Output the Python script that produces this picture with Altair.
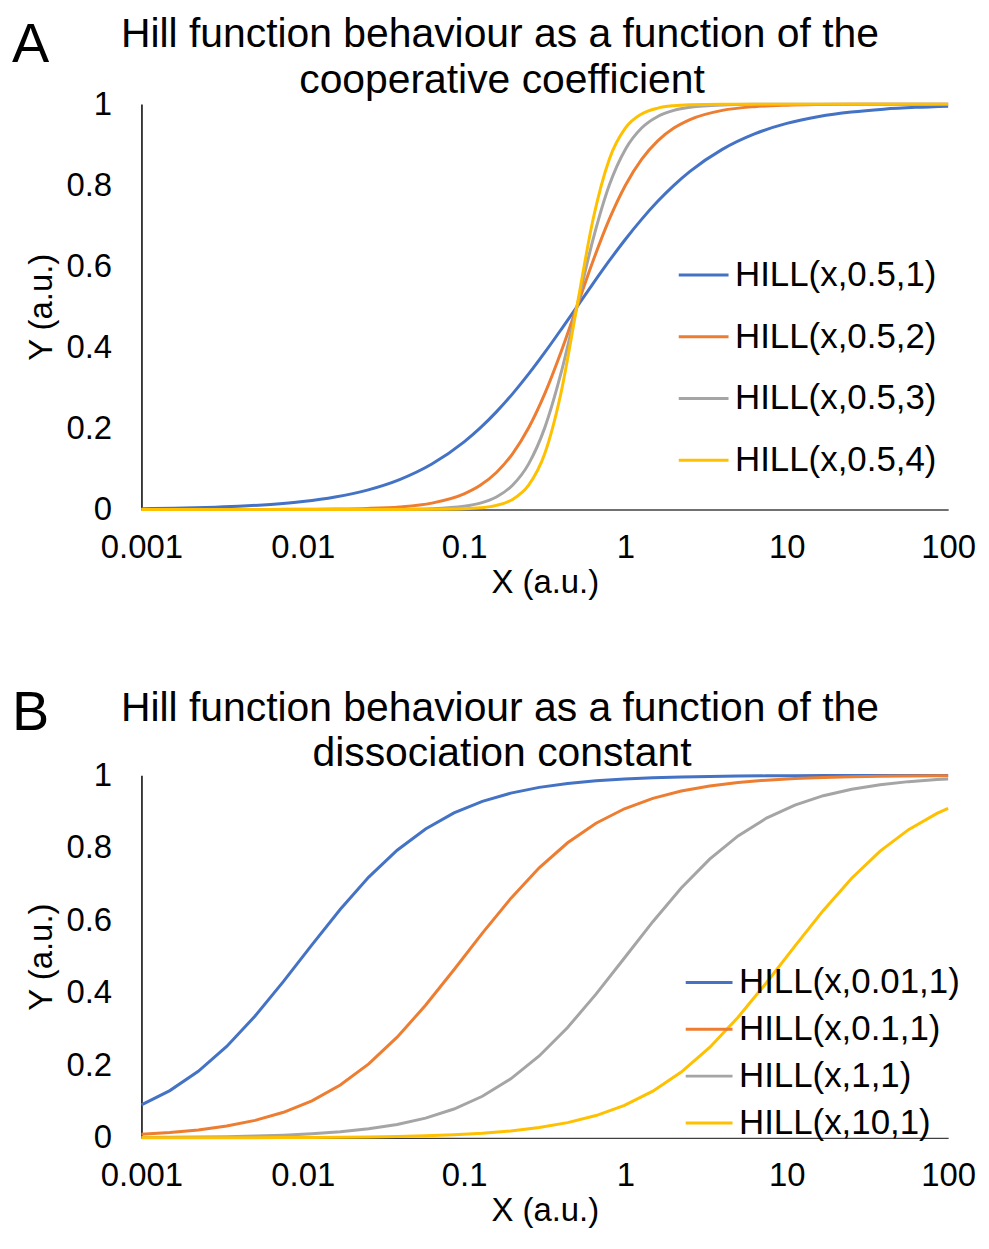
import altair as alt
import pandas as pd

FONT = "Liberation Sans"
COLORS = ["#4472C4", "#ED7D31", "#A5A5A5", "#FFC000"]
X_TICKS = [0.001, 0.01, 0.1, 1, 10, 100]
Y_TICKS = [0, 0.2, 0.4, 0.6, 0.8, 1]

# ---------- Panel A: varying cooperative coefficient (K = 0.5) ----------
names_a = ["HILL(x,0.5,1)", "HILL(x,0.5,2)", "HILL(x,0.5,3)", "HILL(x,0.5,4)"]
xa = [0.001, 0.001585, 0.002512, 0.003981, 0.00631, 0.01, 0.01585, 0.02512,
      0.03981, 0.0631, 0.1, 0.1259, 0.1585, 0.1995, 0.2512, 0.3162, 0.3981,
      0.5012, 0.631, 0.7943, 1, 1.259, 1.585, 1.995, 2.512, 3.981, 6.31, 10,
      15.85, 25.12, 39.81, 63.1, 100]
ya1 = [0.002, 0.0032, 0.005, 0.0079, 0.0125, 0.0196, 0.0307, 0.0478, 0.0737,
       0.1121, 0.1667, 0.2011, 0.2407, 0.2852, 0.3344, 0.3874, 0.4433, 0.5006,
       0.5579, 0.6137, 0.6667, 0.7157, 0.7602, 0.7996, 0.8340, 0.8884, 0.9266,
       0.9524, 0.9694, 0.9805, 0.9876, 0.9921, 0.9950]
ya2 = [0.0, 0.0, 0.0, 0.0001, 0.0002, 0.0004, 0.0010, 0.0025, 0.0063, 0.0157,
       0.0385, 0.0596, 0.0913, 0.1373, 0.2015, 0.2857, 0.3880, 0.5012, 0.6143,
       0.7162, 0.8000, 0.8637, 0.9095, 0.9409, 0.9619, 0.9845, 0.9938, 0.9975,
       0.9990, 0.9996, 0.9998, 0.9999, 1.0]
ya3 = [0.0, 0.0, 0.0, 0.0, 0.0, 0.0, 0.0, 0.0001, 0.0005, 0.0020, 0.0079,
       0.0157, 0.0309, 0.0597, 0.1125, 0.2019, 0.3355, 0.5018, 0.6678, 0.8004,
       0.8889, 0.9410, 0.9696, 0.9845, 0.9922, 0.9980, 0.9995, 0.9999, 1.0,
       1.0, 1.0, 1.0, 1.0]
ya4 = [0.0, 0.0, 0.0, 0.0, 0.0, 0.0, 0.0, 0.0, 0.0, 0.0003, 0.0016, 0.0040,
       0.0100, 0.0247, 0.0599, 0.1379, 0.2867, 0.5024, 0.7173, 0.8643, 0.9412,
       0.9757, 0.9902, 0.9961, 0.9984, 0.9998, 1.0, 1.0, 1.0, 1.0, 1.0, 1.0, 1.0]

# ---------- Panel B: varying dissociation constant (n = 1) ----------
names_b = ["HILL(x,0.01,1)", "HILL(x,0.1,1)", "HILL(x,1,1)", "HILL(x,10,1)"]
xb = [0.001, 0.0015, 0.00225, 0.003375, 0.0050625, 0.0075938, 0.0113906,
      0.0170859, 0.0256289, 0.0384434, 0.057665, 0.0864976, 0.1297463,
      0.1946195, 0.2919293, 0.4378939, 0.6568408, 0.9852613, 1.4778919,
      2.2168378, 3.3252567, 4.9878851, 7.4818276, 11.2227414, 16.8341121,
      25.2511682, 37.8767523, 56.8151284, 85.2226926, 100]
yb1 = [0.0909, 0.1304, 0.1837, 0.2523, 0.3361, 0.4316, 0.5325, 0.6308, 0.7193,
       0.7936, 0.8522, 0.8964, 0.9284, 0.9511, 0.9669, 0.9777, 0.9850, 0.9900,
       0.9933, 0.9955, 0.9970, 0.9980, 0.9987, 0.9991, 0.9994, 0.9996, 0.9997,
       0.9998, 0.9999, 0.9999]
yb2 = [0.0099, 0.0148, 0.0220, 0.0326, 0.0482, 0.0706, 0.1023, 0.1459, 0.2040,
       0.2777, 0.3657, 0.4638, 0.5647, 0.6606, 0.7449, 0.8141, 0.8679, 0.9079,
       0.9366, 0.9568, 0.9708, 0.9803, 0.9868, 0.9912, 0.9941, 0.9961, 0.9974,
       0.9982, 0.9988, 0.9990]
yb3 = [0.0010, 0.0015, 0.0022, 0.0034, 0.0050, 0.0075, 0.0113, 0.0168, 0.0250,
       0.0370, 0.0545, 0.0796, 0.1148, 0.1629, 0.2260, 0.3045, 0.3964, 0.4963,
       0.5964, 0.6892, 0.7688, 0.8330, 0.8821, 0.9182, 0.9439, 0.9619, 0.9743,
       0.9827, 0.9884, 0.9901]
yb4 = [0.0001, 0.0002, 0.0002, 0.0003, 0.0005, 0.0008, 0.0011, 0.0017, 0.0026,
       0.0038, 0.0057, 0.0086, 0.0128, 0.0191, 0.0284, 0.0420, 0.0616, 0.0897,
       0.1288, 0.1815, 0.2495, 0.3328, 0.4280, 0.5288, 0.6274, 0.7163, 0.7911,
       0.8503, 0.8950, 0.9091]


def long_df(x, series, names):
    rows = []
    for name, ys in zip(names, series):
        for xi, yi in zip(x, ys):
            rows.append({"x": xi, "y": yi, "series": name})
    return pd.DataFrame(rows)


def text_layer(txt, size, xpos, ypos, align):
    return alt.Chart(pd.DataFrame({"t": [txt]})).mark_text(
        font=FONT, fontSize=size, color="black", align=align,
        baseline="alphabetic"
    ).encode(text="t:N", x=alt.value(xpos), y=alt.value(ypos))


def panel(df, names, letter, t1, t2, height, interp, leg_y, leg_x, sym, row_pad,
          t1_y, t2_y, letter_y, letter_size):
    lines = alt.Chart(df).mark_line(strokeWidth=3, interpolate=interp).encode(
        x=alt.X("x:Q",
                scale=alt.Scale(type="log", domain=[0.001, 100], nice=False),
                axis=alt.Axis(values=X_TICKS, format="~g", title="X (a.u.)",
                              grid=False, ticks=False, labelFlush=False,
                              labelFontSize=33, labelFont=FONT, labelColor="black",
                              labelPadding=22, titleFont=FONT, titleFontSize=33,
                              titleFontWeight="normal", titleColor="black",
                              titlePadding=2, domainColor="#404040",
                              domainWidth=1.5)),
        y=alt.Y("y:Q",
                scale=alt.Scale(domain=[0, 1], nice=False),
                axis=alt.Axis(values=Y_TICKS, format="~g", title="Y (a.u.)",
                              grid=False, ticks=False,
                              labelFontSize=33, labelFont=FONT, labelColor="black",
                              labelPadding=30, titleFont=FONT, titleFontSize=33,
                              titleFontWeight="normal", titleColor="black",
                              titlePadding=7, domainColor="black",
                              domainWidth=1.5)),
        color=alt.Color("series:N",
                        scale=alt.Scale(domain=names, range=COLORS),
                        sort=names,
                        legend=alt.Legend(title=None, orient="none",
                                          legendX=leg_x, legendY=leg_y,
                                          symbolType="stroke", symbolSize=sym,
                                          symbolStrokeWidth=3,
                                          labelFont=FONT, labelFontSize=35,
                                          labelColor="black", labelOffset=5,
                                          labelLimit=500, rowPadding=row_pad,
                                          padding=0)),
    )
    return alt.layer(
        lines,
        text_layer(t1, 41, 360, t1_y, "center"),
        text_layer(t2, 41, 362, t2_y, "center"),
        text_layer(letter, letter_size, -130, letter_y, "left"),
    ).properties(width=810, height=height)


chart_a = panel(long_df(xa, [ya1, ya2, ya3, ya4], names_a), names_a, "A",
                "Hill function behaviour as a function of the",
                "cooperative coefficient", 407, "monotone",
                145, 538, 2500, 17, -57, -11, -42, 56)
chart_b = panel(long_df(xb, [yb1, yb2, yb3, yb4], names_b), names_b, "B",
                "Hill function behaviour as a function of the",
                "dissociation constant", 364, "linear",
                183, 545, 2209, 4, -55, -9, -46, 56)

chart = alt.vconcat(chart_a, chart_b, spacing=86).resolve_scale(
    color="independent"
).configure(
    font=FONT,
    padding={"left": 4, "top": 4, "right": 5, "bottom": 5},
).configure_view(stroke=None)

chart.save("out.html", embed_options={"renderer": "svg", "actions": False})
